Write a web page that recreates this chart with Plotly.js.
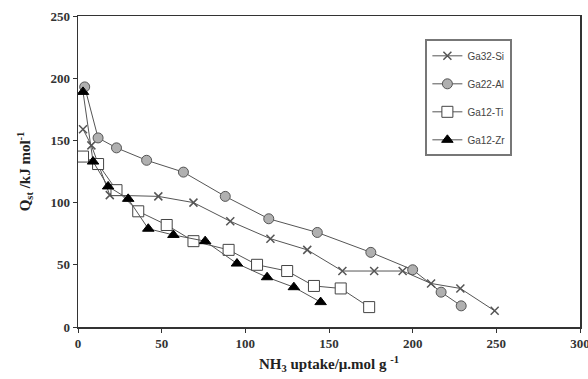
<!DOCTYPE html>
<html>
<head>
<meta charset="utf-8">
<script src="https://cdn.plot.ly/plotly-3.0.1.min.js"></script>
<style>html,body{margin:0;padding:0;background:#fff;}#chart{width:588px;height:379px;}</style>
</head>
<body>
<div id="chart"></div>
<script>
// Ga32-Si
const siX = [3, 8, 19, 48, 69, 91, 115, 137, 158, 177, 194, 211, 228.5, 249];
const siY = [159, 146, 106, 105, 100, 85, 71, 62, 45, 45, 45, 35, 31, 13];
// Ga22-Al
const alX = [4, 12, 23, 41, 63, 88, 114, 143, 175, 200, 217, 229];
const alY = [193, 152, 144, 134, 124.5, 105, 87, 76, 60, 46, 28, 17];
// Ga12-Ti
const tiX = [3, 12, 23, 36, 53, 69, 90, 107, 125, 141, 157, 174];
const tiY = [137, 131, 110, 93, 82, 69, 62, 50, 45, 33, 31, 16];
// Ga12-Zr
const zrX = [3, 9, 18, 30, 42, 57, 76, 95, 113, 129, 145];
const zrY = [189, 133, 113, 103, 79, 74, 69, 51, 40, 32, 20];

const names = ['Ga32-Si', 'Ga22-Al', 'Ga12-Ti', 'Ga12-Zr'];
const xTicks = [0, 50, 100, 150, 200, 250, 300];
const yTicks = [0, 50, 100, 150, 200, 250];

const lineStyle = {color: '#555', width: 1};
const traces = [
  {x: siX, y: siY, name: names[0], legendgroup: 'a', mode: 'lines+markers', line: lineStyle,
   marker: {symbol: 'x-thin-open', size: 8, line: {color: '#333', width: 1.5}}},
  {x: alX, y: alY, name: names[1], legendgroup: 'b', mode: 'lines+markers', line: lineStyle,
   marker: {symbol: 'circle', size: 10, color: '#b0b0b0', line: {color: '#555', width: 1}}},
  {x: tiX, y: tiY, name: names[2], legendgroup: 'c', mode: 'lines+markers', line: lineStyle,
   marker: {symbol: 'square', size: 11, color: '#fff', line: {color: '#444', width: 1}}},
  {x: zrX, y: zrY, name: names[3], legendgroup: 'd', mode: 'lines+markers', line: lineStyle,
   marker: {symbol: 'triangle-up', size: 10, color: '#000', line: {color: '#000', width: 1}}}
].map(t => Object.assign({type: 'scatter'}, t));

const tickFont = {family: 'Liberation Serif, Times New Roman, serif', size: 13, color: '#333', weight: 'bold'};
const titleFont = {family: 'Liberation Serif, Times New Roman, serif', size: 15, color: '#222', weight: 'bold'};
const layout = {
  width: 588, height: 379,
  margin: {l: 78, r: 8, t: 16, b: 52},
  paper_bgcolor: '#fff', plot_bgcolor: '#fff',
  showlegend: true,
  legend: {x: 0.692, y: 0.925, xanchor: 'left', yanchor: 'top',
           bordercolor: '#777', borderwidth: 2, bgcolor: '#fff',
           tracegroupgap: 9,
           font: {family: 'Liberation Sans, Arial, sans-serif', size: 10, color: '#444'}},
  xaxis: {range: [0, 300], tickvals: xTicks, ticktext: xTicks.map(String),
          showgrid: false, zeroline: false, showline: true, linecolor: '#333', linewidth: 1.5,
          mirror: true, ticks: 'outside', ticklen: 4, tickcolor: '#333', tickfont: tickFont,
          ticklabeloverflow: 'allow',
          title: {text: 'NH<sub>3</sub> uptake/μ.mol g <sup>-1</sup>', font: titleFont, standoff: 8}},
  yaxis: {range: [0, 250], tickvals: yTicks, ticktext: yTicks.map(String),
          showgrid: false, zeroline: false, showline: true, linecolor: '#333', linewidth: 1.5,
          mirror: true, ticks: 'outside', ticklen: 4, tickcolor: '#333', tickfont: tickFont,
          ticklabeloverflow: 'allow',
          title: {text: 'Q<sub>st</sub> /kJ mol<sup>-1</sup>', font: titleFont, standoff: 16}}
};

Plotly.newPlot('chart', traces, layout, {staticPlot: true, displayModeBar: false});
</script>
</body>
</html>
